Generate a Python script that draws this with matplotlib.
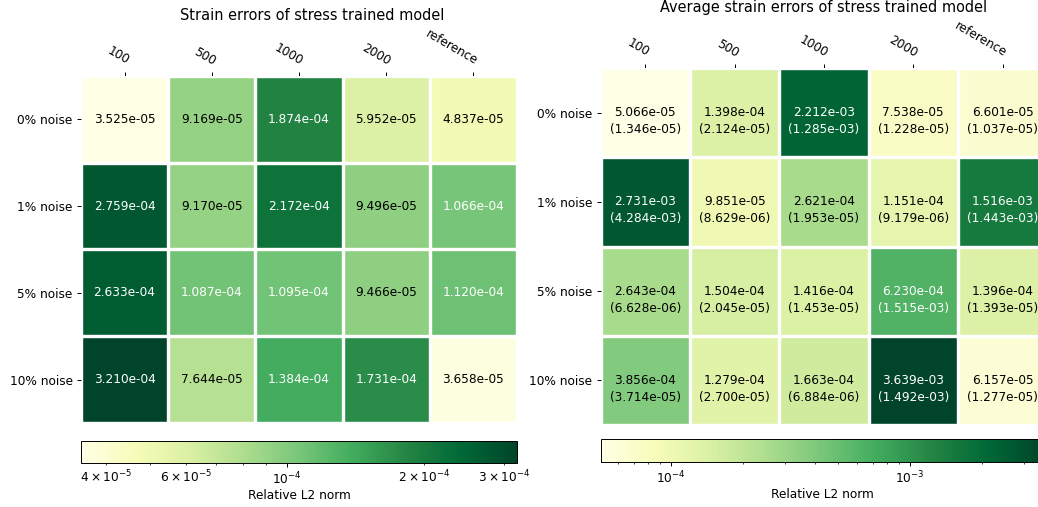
import numpy as np
import matplotlib
matplotlib.use("Agg")
import matplotlib.pyplot as plt
from matplotlib.colors import LogNorm

# data
samples = ["100", "500", "1000", "2000", "reference"]
noise = ["0% noise", "1% noise", "5% noise", "10% noise"]

strain_err = np.array([
    [3.525e-05, 9.169e-05, 1.874e-04, 5.952e-05, 4.837e-05],
    [2.759e-04, 9.170e-05, 2.172e-04, 9.496e-05, 1.066e-04],
    [2.633e-04, 1.087e-04, 1.095e-04, 9.466e-05, 1.120e-04],
    [3.210e-04, 7.644e-05, 1.384e-04, 1.731e-04, 3.658e-05],
])

avg_err = np.array([
    [5.066e-05, 1.398e-04, 2.212e-03, 7.538e-05, 6.601e-05],
    [2.731e-03, 9.851e-05, 2.621e-04, 1.151e-04, 1.516e-03],
    [2.643e-04, 1.504e-04, 1.416e-04, 6.230e-04, 1.396e-04],
    [3.856e-04, 1.279e-04, 1.663e-04, 3.639e-03, 6.157e-05],
])

avg_std = np.array([
    [1.346e-05, 2.124e-05, 1.285e-03, 1.228e-05, 1.037e-05],
    [4.284e-03, 8.629e-06, 1.953e-05, 9.179e-06, 1.443e-03],
    [6.628e-06, 2.045e-05, 1.453e-05, 1.515e-03, 1.393e-05],
    [3.714e-05, 2.700e-05, 6.884e-06, 1.492e-03, 1.277e-05],
])

DPI = 87
W, H = 1038, 507


def px_axes(fig, x0, top, w, h):
    # pixel box (from top-left) -> figure fraction
    return fig.add_axes([x0 / W, (H - top - h) / H, w / W, h / H])


def heatmap(ax, cax, data, title, title_x=0.5, std=None):
    im = ax.imshow(data, cmap="YlGn", norm=LogNorm(vmin=data.min(), vmax=data.max()),
                   aspect="auto")
    ax.set_xticks(np.arange(data.shape[1]), labels=samples)
    ax.set_yticks(np.arange(data.shape[0]), labels=noise)
    ax.tick_params(top=True, bottom=False, labeltop=True, labelbottom=False)
    plt.setp(ax.get_xticklabels(), rotation=-30, ha="right", rotation_mode="anchor")
    for s in ax.spines.values():
        s.set_visible(False)
    ax.set_xticks(np.arange(data.shape[1] + 1) - .5, minor=True)
    ax.set_yticks(np.arange(data.shape[0] + 1) - .5, minor=True)
    ax.grid(which="minor", color="w", linestyle="-", linewidth=2.8)
    ax.tick_params(which="minor", bottom=False, left=False, top=False)
    ax.set_title(title, x=title_x)

    for i in range(data.shape[0]):
        for j in range(data.shape[1]):
            c = "white" if im.norm(data[i, j]) > 0.5 else "black"
            ax.text(j, i, f"{data[i, j]:.3e}", ha="center", va="center", color=c)
            if std is not None:
                ax.text(j, i + 0.19, f"({std[i, j]:.3e})", ha="center", va="center", color=c)

    cb = plt.colorbar(im, cax=cax, orientation="horizontal")
    cb.ax.tick_params(which="both", pad=2.5)
    cb.set_label("Relative L2 norm", labelpad=2)
    return im


fig = plt.figure(figsize=(W / DPI, H / DPI), dpi=DPI)

ax1 = px_axes(fig, 81, 76, 436, 347)
cax1 = px_axes(fig, 81, 441, 436, 22)
ax2 = px_axes(fig, 600.7, 68, 446.5, 357)
cax2 = px_axes(fig, 600.7, 439, 443, 23)

heatmap(ax1, cax1, strain_err, "Strain errors of stress trained model", title_x=0.53)
heatmap(ax2, cax2, avg_err, "Average strain errors of stress trained model", std=avg_std)

fig.savefig("out.png", dpi=DPI)
